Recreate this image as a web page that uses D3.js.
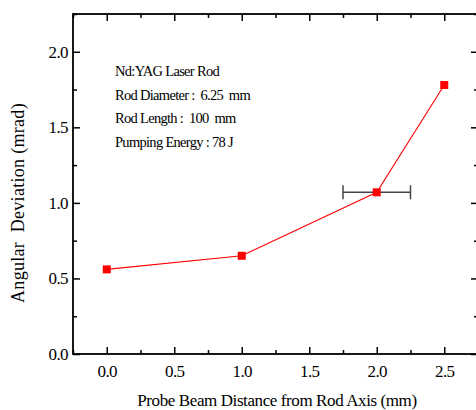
<!DOCTYPE html>
<html><head><meta charset="utf-8">
<script src="https://cdn.jsdelivr.net/npm/d3@7"></script>
<style>
html,body{margin:0;padding:0;background:#fff;}
svg{display:block;}
</style></head>
<body>
<svg id="chart" width="476" height="410"></svg>
<script>
// Data
const distances = [0.0, 1.0, 2.0, 2.5];
const deviations = [0.56, 0.65, 1.07, 1.78];
const errorBarX = [1.75, 2.25];   // horizontal error at x=2.0
const errorBarIndex = 2;
const xTicks = [0.0, 0.5, 1.0, 1.5, 2.0, 2.5];
const xMinorTicks = [-0.25, 0.25, 0.75, 1.25, 1.75, 2.25, 2.75];
const yTicks = [0.0, 0.5, 1.0, 1.5, 2.0];
const yMinorTicks = [0.25, 0.75, 1.25, 1.75, 2.25];
const annotations = ["Nd:YAG Laser Rod", "Rod Diameter :  6.25  mm", "Rod Length :  100  mm", "Pumping Energy : 78 J"];
const xTitle = "Probe Beam Distance from Rod Axis (mm)";
const yTitle = "Angular  Deviation (mrad)";

const FONT = '"Liberation Serif", "Times New Roman", serif';
const svg = d3.select("#chart");
const L = 73, R = 478, T = 14, B = 354;
const x = d3.scaleLinear().domain([-0.25, 2.75]).range([L, R]);
const y = d3.scaleLinear().domain([0, 2.25]).range([B, T]);
const fmt = d3.format(".1f");

function styleAxis(g){
  g.attr("font-family", null).attr("font-size", null);
  g.select(".domain").remove();
  g.selectAll(".tick line").attr("stroke", "#000").attr("stroke-width", 1.5);
  g.selectAll(".tick text").attr("fill", "#000").style("font-family", FONT)
   .style("font-size", "17px").style("letter-spacing", "-0.6px");
}

// Minor ticks
svg.append("g").attr("transform", `translate(0,${B})`)
  .call(d3.axisBottom(x).tickValues(xMinorTicks).tickSize(-4).tickFormat(""))
  .call(styleAxis);
svg.append("g").attr("transform", `translate(0,${T})`)
  .call(d3.axisTop(x).tickValues(xMinorTicks).tickSize(-4).tickFormat(""))
  .call(styleAxis);
svg.append("g").attr("transform", `translate(${L},0)`)
  .call(d3.axisLeft(y).tickValues(yMinorTicks).tickSize(-4).tickFormat(""))
  .call(styleAxis);
svg.append("g").attr("transform", `translate(${R},0)`)
  .call(d3.axisRight(y).tickValues(yMinorTicks).tickSize(-4).tickFormat(""))
  .call(styleAxis);

// Major ticks
svg.append("g").attr("transform", `translate(0,${B})`)
  .call(d3.axisBottom(x).tickValues(xTicks).tickSize(-7).tickPadding(11).tickFormat(fmt))
  .call(styleAxis);
svg.append("g").attr("transform", `translate(0,${T})`)
  .call(d3.axisTop(x).tickValues(xTicks).tickSize(-7).tickFormat(""))
  .call(styleAxis);
svg.append("g").attr("transform", `translate(${L},0)`)
  .call(d3.axisLeft(y).tickValues(yTicks).tickSize(-7).tickPadding(5).tickFormat(fmt))
  .call(styleAxis);
svg.append("g").attr("transform", `translate(${R},0)`)
  .call(d3.axisRight(y).tickValues(yTicks).tickSize(-7).tickFormat(""))
  .call(styleAxis);

// Frame
svg.append("rect").attr("x", L).attr("y", T).attr("width", R - L).attr("height", B - T)
  .attr("fill", "none").attr("stroke", "#000").attr("stroke-width", 1.8);

// Line
const pts = distances.map((d, i) => [d, deviations[i]]);
svg.append("path").datum(pts)
  .attr("d", d3.line().x(d => x(d[0])).y(d => y(d[1])))
  .attr("fill", "none").attr("stroke", "#ff0000").attr("stroke-width", 1.1);

// Error bar
const ey = y(deviations[errorBarIndex]);
const eg = svg.append("g").attr("stroke", "#444").attr("stroke-width", 1.5);
eg.append("line").attr("x1", x(errorBarX[0])).attr("x2", x(errorBarX[1])).attr("y1", ey).attr("y2", ey);
errorBarX.forEach(v => eg.append("line").attr("x1", x(v)).attr("x2", x(v)).attr("y1", ey - 7).attr("y2", ey + 7));

// Markers
svg.selectAll("rect.m").data(pts).enter().append("rect").attr("class", "m")
  .attr("x", d => x(d[0]) - 4).attr("y", d => y(d[1]) - 4)
  .attr("width", 8).attr("height", 8).attr("fill", "#ff0000");

// Annotations
svg.append("g").selectAll("text").data(annotations).enter().append("text")
  .attr("x", 115).attr("y", (d, i) => 76 + i * 23.5)
  .style("font-family", FONT)
  .style("font-size", "14.5px").style("letter-spacing", "-0.7px").style("white-space", "pre")
  .text(d => d);

// Axis titles
svg.append("text").attr("x", 277).attr("y", 406).attr("text-anchor", "middle")
  .style("font-family", FONT)
  .style("font-size", "17px").style("letter-spacing", "-0.4px").text(xTitle);
svg.append("text").attr("transform", `translate(24,203) rotate(-90)`).attr("text-anchor", "middle")
  .style("font-family", FONT)
  .style("font-size", "18px").style("white-space", "pre")
  .style("letter-spacing", "0.3px").text(yTitle);
</script>
</body></html>
